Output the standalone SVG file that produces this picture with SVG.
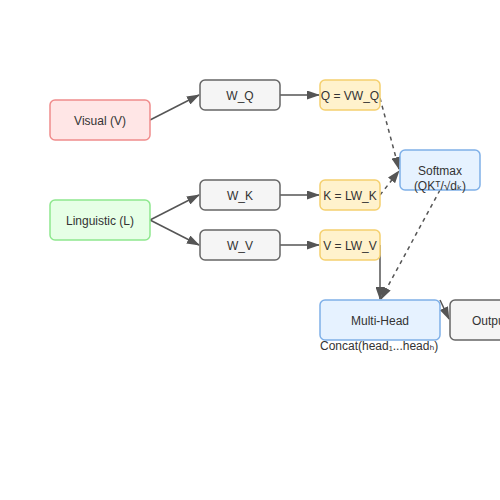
<svg xmlns="http://www.w3.org/2000/svg" width="500" height="500" viewBox="0 0 500 500">
<style>
text{font-family:"Liberation Sans",Arial,"DejaVu Sans",sans-serif;font-size:12px;fill:#333;text-anchor:middle;dominant-baseline:central}
.gray{fill:#f5f5f5;stroke:#666;stroke-width:1.5}
.yel{fill:#fff2cc;stroke:#f5d06e;stroke-width:1.5}
.blue{fill:#e6f2ff;stroke:#7fb0e8;stroke-width:1.5}
.c{stroke:#555;stroke-width:1.5;fill:none}
.d{stroke-dasharray:4,4}
</style>
<defs>
<marker id="ah" markerWidth="13" markerHeight="9" refX="12" refY="4.5" orient="auto" markerUnits="userSpaceOnUse" viewBox="0 0 13 9">
<polygon points="0 0,13 4.5,0 9" fill="#555"/>
</marker>
</defs>
<rect width="500" height="500" fill="#fff"/>
<g id="connectors">
<line class="c" x1="150" y1="120" x2="199" y2="95" marker-end="url(#ah)"/>
<line class="c" x1="150" y1="220" x2="199" y2="195" marker-end="url(#ah)"/>
<line class="c" x1="150" y1="220" x2="199" y2="245" marker-end="url(#ah)"/>
<line class="c" x1="280" y1="95" x2="319" y2="95" marker-end="url(#ah)"/>
<line class="c" x1="280" y1="195" x2="319" y2="195" marker-end="url(#ah)"/>
<line class="c" x1="280" y1="245" x2="319" y2="245" marker-end="url(#ah)"/>
<line class="c d" x1="380" y1="98" x2="399" y2="169" marker-end="url(#ah)"/>
<line class="c d" x1="380" y1="195" x2="399" y2="171" marker-end="url(#ah)"/>
<line class="c" x1="380" y1="245" x2="380" y2="299" marker-end="url(#ah)"/>
<line class="c d" x1="440" y1="190" x2="381" y2="299" marker-end="url(#ah)"/>
<line class="c" x1="440" y1="300" x2="449" y2="319" marker-end="url(#ah)"/>
</g>
<g id="visual"><rect x="50" y="100" width="100" height="40" rx="5" fill="#ffe6e6" stroke="#f08c8c" stroke-width="1.5"/><text x="100" y="121">Visual (V)</text></g>
<g id="linguistic"><rect x="50" y="200" width="100" height="40" rx="5" fill="#e6ffe6" stroke="#8ee88e" stroke-width="1.5"/><text x="100" y="221">Linguistic (L)</text></g>
<g id="wq"><rect class="gray" x="200" y="80" width="80" height="30" rx="5"/><text x="240" y="96">W_Q</text></g>
<g id="wk"><rect class="gray" x="200" y="180" width="80" height="30" rx="5"/><text x="240" y="196">W_K</text></g>
<g id="wv"><rect class="gray" x="200" y="230" width="80" height="30" rx="5"/><text x="240" y="246">W_V</text></g>
<g id="q"><rect class="yel" x="320" y="80" width="60" height="30" rx="5"/><text x="350" y="96">Q = VW_Q</text></g>
<g id="k"><rect class="yel" x="320" y="180" width="60" height="30" rx="5"/><text x="350" y="196">K = LW_K</text></g>
<g id="v"><rect class="yel" x="320" y="230" width="60" height="30" rx="5"/><text x="350" y="246">V = LW_V</text></g>
<g id="softmax"><rect class="blue" x="400" y="150" width="80" height="40" rx="5"/><text x="440" y="171">Softmax</text><text x="440" y="186">(QKᵀ/√dₖ)</text></g>
<g id="multihead"><rect class="blue" x="320" y="300" width="120" height="40" rx="5"/><text x="380" y="321">Multi-Head</text><text x="320" y="346" style="text-anchor:start">Concat(head₁...headₕ)</text></g>
<g id="output"><rect class="gray" x="450" y="300" width="80" height="40" rx="5"/><text x="490" y="321">Output</text></g>
</svg>
